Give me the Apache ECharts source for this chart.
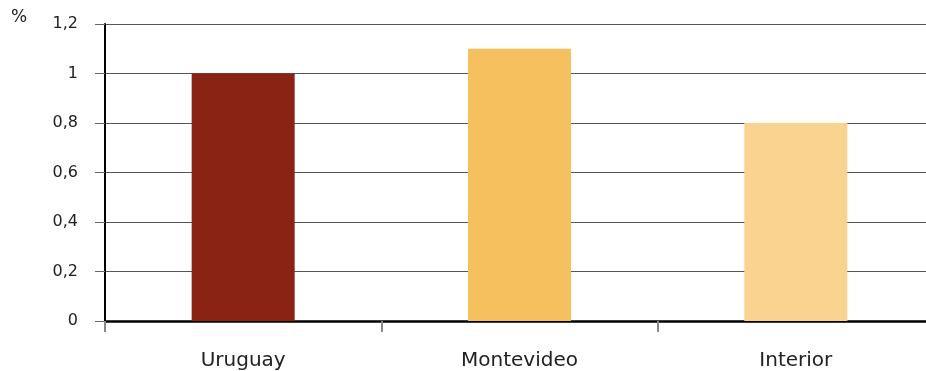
<!DOCTYPE html>
<html>
<head>
<meta charset="utf-8">
<script src="https://cdn.jsdelivr.net/npm/echarts@6/dist/echarts.min.js"></script>
<style>
  html, body { margin: 0; padding: 0; background: #fff; }
  #chart { width: 926px; height: 371px; }
</style>
</head>
<body>
<div id="chart"></div>
<script>
// Regions and their values (%)
const regions = ['Uruguay', 'Montevideo', 'Interior'];
const values = [1.0, 1.1, 0.8];
const barColors = ['#8B2314', '#F7C05E', '#F9D38F'];
const yTickLabels = { 0: '0', 0.2: '0,2', 0.4: '0,4', 0.6: '0,6', 0.8: '0,8', 1: '1', 1.2: '1,2' };

const chart = echarts.init(document.getElementById('chart'), null, { renderer: 'canvas' });

chart.setOption({
  animation: false,
  backgroundColor: '#ffffff',
  textStyle: { fontFamily: 'DejaVu Sans' },
  // plot runs slightly past the right edge of the canvas
  grid: { left: 105, width: 829, top: 24, height: 297, containLabel: false, outerBoundsMode: 'none' },
  graphic: [{
    type: 'text', left: 11, top: 9,
    style: { text: '%', fontSize: 17, fill: '#222', fontFamily: 'DejaVu Sans' }
  }],
  xAxis: {
    type: 'category',
    data: regions,
    axisLine: { show: true, lineStyle: { color: '#000', width: 2.5 } },
    axisTick: { show: true, length: 11, lineStyle: { color: '#888', width: 2 } },
    axisLabel: { margin: 30, fontSize: 20, color: '#222' },
    splitLine: { show: false }
  },
  yAxis: {
    type: 'value',
    min: 0, max: 1.2, interval: 0.2,
    axisLine: { show: true, lineStyle: { color: '#000', width: 2 } },
    axisTick: { show: true, length: 10, lineStyle: { color: '#666', width: 1 } },
    axisLabel: {
      margin: 27, fontSize: 16, color: '#222',
      formatter: v => yTickLabels[Math.round(v * 10) / 10] ?? String(v).replace('.', ',')
    },
    splitLine: { show: true, lineStyle: { color: '#555', width: 1 } }
  },
  series: [{
    type: 'bar',
    barWidth: 103,
    data: values.map((v, i) => ({ value: v, itemStyle: { color: barColors[i] } }))
  }]
});
</script>
</body>
</html>
